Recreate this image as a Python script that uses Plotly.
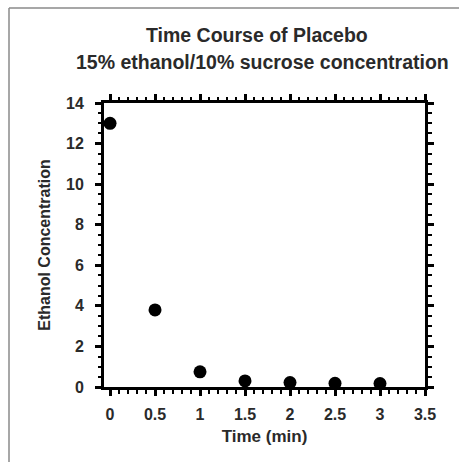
import plotly.graph_objects as go

time_min = [0, 0.5, 1, 1.5, 2, 2.5, 3]
ethanol = [13.0, 3.8, 0.75, 0.3, 0.22, 0.18, 0.17]
x_ticks = [0, 0.5, 1, 1.5, 2, 2.5, 3, 3.5]
x_tick_labels = ["0", "0.5", "1", "1.5", "2", "2.5", "3", "3.5"]
y_ticks = [0, 2, 4, 6, 8, 10, 12, 14]
title_line1 = "Time Course of Placebo"
title_line2 = "15% ethanol/10% sucrose concentration"

W, H = 459, 462
L, R, T, B = 104, 425, 103, 387


def px(x):
    return (x - L) / (R - L)


def py(y):
    return (B - y) / (B - T)


FONT = "Liberation Sans, Arial, sans-serif"
TXT = "#2a2a2a"

fig = go.Figure()
fig.add_trace(go.Scatter(
    x=time_min, y=ethanol, mode="markers",
    marker=dict(size=13, color="black"),
    cliponaxis=False, showlegend=False,
))

axis_common = dict(
    showline=True, linecolor="black", linewidth=3,
    mirror="ticks", ticks="outside", tickcolor="black", tickwidth=2.5, ticklen=6,
    showgrid=False, zeroline=False,
    tickfont=dict(family=FONT, size=16, color=TXT, weight="bold"),
)

fig.update_xaxes(
    range=[-0.067, 3.5], tickvals=x_ticks, ticktext=x_tick_labels,
    minor=dict(dtick=0.1, tick0=0, ticks="outside", ticklen=3.5, tickwidth=2.2, tickcolor="black"),
    ticklabelstandoff=5,
    title=dict(text="Time (min)", font=dict(family=FONT, size=17, color=TXT, weight="bold"), standoff=8),
    **axis_common,
)
fig.update_yaxes(
    range=[0, 14], tickvals=y_ticks,
    minor=dict(dtick=0.5, tick0=0, ticks="outside", ticklen=3.5, tickwidth=2.2, tickcolor="black"),
    ticklabelstandoff=8,
    title=dict(text="Ethanol Concentration", font=dict(family=FONT, size=16, color=TXT, weight="bold"), standoff=12),
    **axis_common,
)

fig.add_annotation(x=px(257), y=py(35), xref="paper", yref="paper", text=title_line1,
                   showarrow=False, font=dict(family=FONT, size=19.5, color=TXT, weight="bold"),
                   xanchor="center", yanchor="middle")
fig.add_annotation(x=px(262), y=py(62), xref="paper", yref="paper", text=title_line2,
                   showarrow=False, font=dict(family=FONT, size=19.5, color=TXT, weight="bold"),
                   xanchor="center", yanchor="middle")

fig.add_shape(type="line", xref="paper", yref="paper", x0=px(9), y0=py(8), x1=px(470), y1=py(8),
              line=dict(color="#8a8a8a", width=1.5))
fig.add_shape(type="line", xref="paper", yref="paper", x0=px(9), y0=py(8), x1=px(9), y1=py(470),
              line=dict(color="#8a8a8a", width=1.5))

fig.update_layout(
    width=W, height=H,
    margin=dict(l=L, r=W - R, t=T, b=H - B),
    paper_bgcolor="white", plot_bgcolor="white",
    font=dict(family=FONT, color=TXT),
)

fig.write_html("out.html")
